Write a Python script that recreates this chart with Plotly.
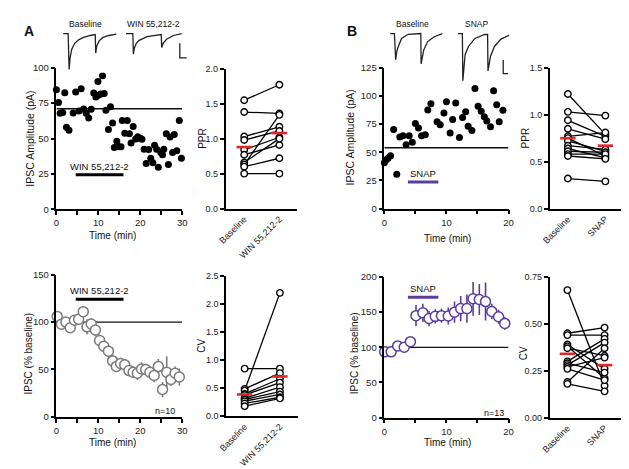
import plotly.graph_objects as go

W, H = 629, 469
FONT = "Liberation Sans, Arial, sans-serif"
PURPLE = "#5b3e9c"
RED = "#e0262b"
GRAY = "#7a7a7a"

# ---------------- Panel A, top: IPSC amplitude (single cell) ----------------
a_amp_t = [0, 0.5, 0.9, 1.5, 2.0, 2.4, 3.0, 4.0, 4.6, 5.4, 5.9, 6.5, 7.1, 7.7, 8.3,
           8.9, 9.4, 9.9, 10.0, 10.6, 11.0, 11.4, 11.8, 12.4, 12.9, 13.4, 13.8, 14.4,
           14.8, 15.4, 15.7, 16.3, 16.9, 17.4, 17.8, 18.3, 18.9, 19.4, 20.0, 20.4,
           20.9, 21.4, 22.0, 22.5, 23.0, 23.4, 23.9, 24.3, 24.9, 25.3, 25.6, 26.2,
           26.7, 27.1, 27.7, 28.1, 28.7, 29.3, 29.8]
a_amp = [84.4, 75.4, 67.8, 68.3, 82.3, 57.9, 55.9, 68.0, 82.8, 69.4, 85.1, 70.8, 67.8,
         64.4, 70.6, 82.1, 79.3, 90.3, 80.5, 81.4, 94.3, 81.8, 69.9, 56.3, 72.4, 60.9,
         43.7, 48.0, 44.1, 44.1, 62.8, 53.8, 62.8, 53.3, 46.9, 58.4, 49.7, 51.3, 50.1,
         49.4, 42.5, 32.4, 42.3, 36.1, 32.9, 45.3, 42.5, 29.7, 40.2, 38.6, 42.5, 53.3,
         31.7, 51.0, 40.2, 52.9, 41.4, 62.8, 36.1]
a_amp_baseline = 71
a_time_span = [0, 30]
win_period = [4.6, 16.0]
win_bar_amp = 24.4

# ---------------- Panel B, top ----------------
b_amp_t = [0, 0.3, 0.6, 1.0, 1.5, 2.0, 2.5, 3.0, 3.5, 4.0, 4.5, 5.0, 5.5, 6.0, 6.6, 7.0,
           7.5, 8.0, 8.5, 9.0, 9.6, 10.0, 10.6, 11.0, 11.5, 12.1, 12.6, 13.1, 13.5,
           14.1, 14.6, 15.1, 15.6, 16.1, 16.5, 17.1, 17.6, 18.1, 18.5, 19.1]
b_amp = [40.7, 43.3, 44.7, 46.8, 70.2, 30.6, 63.5, 64.7, 56.6, 64.7, 58.9, 75.6, 71.6,
         64.7, 65.5, 87.5, 93.0, 121.2, 77.1, 74.5, 84.9, 94.7, 67.0, 79.1, 93.8, 63.2,
         80.8, 86.0, 73.0, 69.3, 106.5, 90.9, 86.3, 81.4, 77.7, 72.7, 104.5, 92.1,
         77.1, 87.2]
b_amp_baseline = 54
b_time_span = [0, 20]
snap_period = [3.8, 8.7]
snap_bar_amp = 23.7

# ---------------- PPR ----------------
cats_a = ["Baseline", "WIN 55,212-2"]
ppr_a_base = [1.55, 1.38, 1.03, 0.98, 0.84, 0.77, 0.66, 0.63, 0.60, 0.50]
ppr_a_win = [1.77, 1.36, 1.17, 1.11, 1.02, 0.91, 1.00, 1.34, 0.72, 0.50]
ppr_a_mean = [0.88, 1.08]

cats_b = ["Baseline", "SNAP"]
ppr_b_base = [1.22, 1.03, 0.94, 0.85, 0.77, 0.75, 0.72, 0.67, 0.64, 0.61, 0.58, 0.56, 0.32]
ppr_b_snap = [0.79, 0.99, 0.77, 0.74, 0.81, 0.56, 0.61, 0.63, 0.54, 0.60, 0.58, 0.53, 0.29]
ppr_b_mean = [0.75, 0.67]

# ---------------- Panel A, bottom: normalised time course ----------------
a_norm_t = [0.2, 1.2, 2.25, 3.3, 4.3, 5.3, 6.4, 7.3, 8.3, 9.3, 10.3, 11.3, 12.4, 13.4,
            14.3, 15.3, 16.3, 17.3, 18.3, 19.3, 20.3, 21.3, 22.3, 23.3, 24.3, 25.3,
            26.3, 27.3, 28.3, 29.3]
a_norm = [106, 97.7, 100, 94, 102, 103, 111, 95, 98, 91.7, 80.7, 74.5, 69.3, 59, 53.2,
          56.4, 55, 48.8, 47, 46, 50.5, 50, 47, 43.6, 53, 28.8, 47, 39.5, 46, 42]
a_norm_err = [5, 4, 4, 4, 5, 5, 6, 8, 6, 6, 6, 6, 7, 7, 6, 6, 6, 6, 6, 7, 7, 6, 6, 7,
              8, 8, 17, 7, 7, 9]
win_bar_norm = 124
a_n_label = "n=10"

# ---------------- Panel B, bottom ----------------
b_norm_t = [0.05, 1.1, 2.15, 3.2, 4.2, 5.1, 6.2, 7.2, 8.2, 9.2, 10.3, 11.3, 12.3, 13.3,
            14.3, 15.3, 16.3, 17.3, 18.4, 19.4]
b_norm = [93.5, 93.5, 102, 100, 108, 145, 149, 141, 144, 145, 144.5, 150, 155, 155,
          169, 168, 165, 151, 143.5, 134]
b_norm_err = [5, 4, 4, 4, 5, 15, 13, 11, 10, 10, 12, 15, 18, 20, 24, 22, 27, 11, 10, 9]
snap_bar_norm = 171
b_n_label = "n=13"

# ---------------- CV ----------------
cv_a_base = [0.85, 0.49, 0.46, 0.40, 0.38, 0.32, 0.30, 0.27, 0.23, 0.18]
cv_a_win = [0.85, 0.77, 2.20, 0.67, 0.60, 0.52, 0.44, 0.39, 0.34, 0.32]
cv_a_mean = [0.39, 0.71]

cv_b_base = [0.68, 0.45, 0.44, 0.39, 0.38, 0.37, 0.30, 0.29, 0.28, 0.27, 0.26, 0.19, 0.18]
cv_b_snap = [0.17, 0.48, 0.44, 0.26, 0.21, 0.33, 0.42, 0.24, 0.40, 0.32, 0.20, 0.37, 0.14]
cv_b_mean = [0.34, 0.28]

# ---------------- Example current traces (ms, pA) ----------------
tr_a_base_t = [4.6, 14.6, 16.6, 18.6, 22, 28, 36, 46, 60, 68, 70, 71, 73, 78, 86, 98, 113]
tr_a_base_i = [0, 0, -147, -100, -64, -40, -26, -16, -8, -4, -4, -80, -52, -30, -16, -8, -2]
tr_a_win_t = [133, 147, 148, 150, 154, 160, 176, 200, 205, 206, 209, 216, 230, 247]
tr_a_win_i = [0, 0, -84, -60, -40, -28, -13, -4, -4, -57, -40, -23, -8, 0]
scale_a_t = [243, 243, 257]
scale_a_i = [-40, -100, -100]

tr_b_base_t = [7.4, 16, 18.6, 21, 24, 30.6, 44, 65.4, 70, 70.6, 73, 76, 84, 97.4, 114]
tr_b_base_i = [0, 0, -107, -72, -53, -20, -3, 0, 0, -124, -92, -67, -33, -13, 0]
tr_b_snap_t = [146, 155, 156, 158, 160.6, 167.4, 180.6, 200.6, 206.6, 207.4, 209.6,
               212.6, 220.6, 234, 250.6]
tr_b_snap_i = [0, 0, -193, -128, -87, -53, -20, -4, -4, -153, -120, -93, -53, -23, -7]
scale_b_t = [238.6, 238.6, 248.6]
scale_b_i = [-108, -164, -164]


def px(x):
    return x / W


def py(y):
    return 1 - y / H


fig = go.Figure()

axis_common = dict(showline=True, linecolor="black", linewidth=1.5, ticks="outside",
                   ticklen=4, tickwidth=1.5, tickcolor="black", showgrid=False,
                   zeroline=False, tickfont=dict(family=FONT, size=9.5, color="#222"))


def time_panel(idx, t, v, span, baseline, period, bar_level, xdom, ydom, yrange,
               ytickvals, xtickvals, xticktext, dots=True, err=None, color="black",
               bar_color="black", drug_label="", nlabel=None):
    xa = "x" if idx == 1 else f"x{idx}"
    ya = "y" if idx == 1 else f"y{idx}"
    fig.add_trace(go.Scatter(x=span, y=[baseline, baseline], mode="lines",
                             line=dict(color="#111", width=1.3), xaxis=xa, yaxis=ya,
                             showlegend=False, hoverinfo="skip", cliponaxis=False))
    fig.add_trace(go.Scatter(x=period, y=[bar_level, bar_level], mode="lines",
                             line=dict(color=bar_color, width=3), xaxis=xa, yaxis=ya,
                             showlegend=False, hoverinfo="skip"))
    if dots:
        fig.add_trace(go.Scatter(x=t, y=v, mode="markers", xaxis=xa, yaxis=ya,
                                 marker=dict(size=7, color="black"), showlegend=False,
                                 cliponaxis=False))
    else:
        fig.add_trace(go.Scatter(x=t, y=v, mode="markers", xaxis=xa, yaxis=ya,
                                 marker=dict(size=10, color="white",
                                             line=dict(color=color, width=1.5)),
                                 error_y=dict(type="data", array=err, width=0,
                                              thickness=1.6, color=color),
                                 showlegend=False, cliponaxis=False))
    fig.add_annotation(x=(period[0] + period[1]) / 2, y=bar_level, xref=xa, yref=ya,
                       text=drug_label, showarrow=False, yanchor="bottom", yshift=1,
                       font=dict(family=FONT, size=9.5, color="#111"))
    if nlabel:
        fig.add_annotation(x=nlabel[0], y=nlabel[1], xref=xa, yref=ya, text=nlabel[2],
                           showarrow=False, font=dict(family=FONT, size=9, color="#111"))
    fig.layout[f"xaxis{'' if idx == 1 else idx}"] = dict(
        axis_common, domain=xdom, range=span, tickvals=xtickvals, ticktext=xticktext,
        anchor=ya)
    fig.layout[f"yaxis{'' if idx == 1 else idx}"] = dict(
        axis_common, domain=ydom, range=yrange, tickvals=ytickvals, anchor=xa)


def pair_panel(idx, cats, base, drug, means, xdom, ydom, yrange, ytickvals, yticktext,
               xrange):
    xa = f"x{idx}"
    ya = f"y{idx}"
    xs, ys = [], []
    for b, d in zip(base, drug):
        xs += [cats[0], cats[1], None]
        ys += [b, d, None]
    fig.add_trace(go.Scatter(x=xs, y=ys, mode="lines", line=dict(color="black", width=1.3),
                             xaxis=xa, yaxis=ya, showlegend=False, hoverinfo="skip"))
    fig.add_trace(go.Scatter(x=[cats[0]] * len(base) + [cats[1]] * len(drug),
                             y=list(base) + list(drug), mode="markers", xaxis=xa, yaxis=ya,
                             marker=dict(size=6.5, color="white",
                                         line=dict(color="black", width=1.4)),
                             showlegend=False, cliponaxis=False))
    fig.add_trace(go.Scatter(x=cats, y=means, mode="markers", xaxis=xa, yaxis=ya,
                             marker=dict(symbol="line-ew", size=11,
                                         line=dict(color=RED, width=2.6)),
                             showlegend=False, cliponaxis=False))
    fig.layout[f"xaxis{idx}"] = dict(
        axis_common, domain=xdom, type="category", categoryorder="array",
        categoryarray=cats, range=xrange, ticks="", tickangle=-45, anchor=ya,
        tickfont=dict(family=FONT, size=9, color="#222"))
    fig.layout[f"yaxis{idx}"] = dict(axis_common, domain=ydom, range=yrange,
                                     tickvals=ytickvals, ticktext=yticktext, anchor=xa,
                                     tickfont=dict(family=FONT, size=9, color="#222"))


top_y = [py(200), py(55)]
bot_y = [py(412.5), py(267)]
ax_a = [px(40.3), px(169)]
ax_b = [px(375.7), px(502.7)]

time_panel(1, a_amp_t, a_amp, a_time_span, a_amp_baseline, win_period, win_bar_amp,
           ax_a, top_y, [0, 100], [0, 25, 50, 75, 100], [0, 5, 10, 15, 20, 25, 30],
           ["0", "", "10", "", "20", "", "30"], drug_label="WIN 55,212-2")
pair_panel(2, cats_a, ppr_a_base, ppr_a_win, ppr_a_mean, [px(213.3), px(286.7)],
           [py(199.3), py(56)], [0, 2.0], [0, 0.5, 1.0, 1.5, 2.0],
           ["0.0", "0.5", "1.0", "1.5", "2.0"], [-0.53, 1.51])
time_panel(3, b_amp_t, b_amp, b_time_span, b_amp_baseline, snap_period, snap_bar_amp,
           ax_b, [py(199.3), py(55)], [0, 125], [0, 25, 50, 75, 100, 125],
           [0, 5, 10, 15, 20], ["0", "", "10", "", "20"], bar_color=PURPLE,
           drug_label="SNAP")
pair_panel(4, cats_b, ppr_b_base, ppr_b_snap, ppr_b_mean, [px(545), px(621.7)],
           [py(199.3), py(55)], [0, 1.5], [0, 0.5, 1.0, 1.5],
           ["0.0", "0.5", "1.0", "1.5"], [-0.48, 1.52])
time_panel(5, a_norm_t, a_norm, a_time_span, 100, win_period, win_bar_norm,
           ax_a, bot_y, [0, 150], [0, 50, 100, 150], [0, 5, 10, 15, 20, 25, 30],
           ["0", "", "10", "", "20", "", "30"], dots=False, err=a_norm_err, color=GRAY,
           drug_label="WIN 55,212-2", nlabel=(26.0, 6, a_n_label))
pair_panel(6, cats_a, cv_a_base, cv_a_win, cv_a_mean, [px(213.7), px(287.3)],
           [py(412), py(268.3)], [0, 2.5], [0, 0.5, 1.0, 1.5, 2.0, 2.5],
           ["0.0", "0.5", "1.0", "1.5", "2.0", "2.5"], [-0.53, 1.51])
time_panel(7, b_norm_t, b_norm, b_time_span, 100, snap_period, snap_bar_norm,
           ax_b, [py(413.3), py(269.3)], [0, 200], [0, 50, 100, 150, 200],
           [0, 5, 10, 15, 20], ["0", "", "10", "", "20"], dots=False, err=b_norm_err,
           color=PURPLE, bar_color=PURPLE, drug_label="SNAP",
           nlabel=(17.6, 7, b_n_label))
pair_panel(8, cats_b, cv_b_base, cv_b_snap, cv_b_mean, [px(544.7), px(620.7)],
           [py(413.3), py(269.3)], [0, 0.75], [0, 0.25, 0.5, 0.75],
           ["0.00", "0.25", "0.50", "0.75"], [-0.48, 1.52])

# ---------------- example traces (insets) ----------------
for xs, ys, ax in [(tr_a_base_t, tr_a_base_i, 9), (tr_a_win_t, tr_a_win_i, 9),
                   (scale_a_t, scale_a_i, 9), (tr_b_base_t, tr_b_base_i, 10),
                   (tr_b_snap_t, tr_b_snap_i, 10), (scale_b_t, scale_b_i, 10)]:
    fig.add_trace(go.Scatter(x=xs, y=ys, mode="lines", xaxis=f"x{ax}", yaxis=f"y{ax}",
                             line=dict(color="#222", width=1.3), showlegend=False,
                             hoverinfo="skip", cliponaxis=False))
fig.layout["xaxis9"] = dict(domain=[px(45), px(175)], range=[0, 260], visible=False,
                            anchor="y9")
fig.layout["yaxis9"] = dict(domain=[py(60), py(15)], range=[-160, 20], visible=False,
                            anchor="x9")
fig.layout["xaxis10"] = dict(domain=[px(378), px(508)], range=[0, 260], visible=False,
                             anchor="y10")
fig.layout["yaxis10"] = dict(domain=[py(72), py(15)], range=[-208, 20], visible=False,
                             anchor="x10")


def txt(x, y, s, size=10, angle=0):
    fig.add_annotation(x=px(x), y=py(y), xref="paper", yref="paper", text=s,
                       showarrow=False, textangle=angle, xanchor="center",
                       yanchor="middle",
                       font=dict(family=FONT, size=size, color="#111"))


txt(12, 17, "<b>A</b>", size=14)
txt(343, 17, "<b>B</b>", size=14)
txt(70, 10, "Baseline", size=8.5)
txt(140, 10, "WIN 55,212-2", size=8.5)
txt(404, 10, "Baseline", size=8.5)
txt(470, 10, "SNAP", size=8.5)

txt(13, 128, "IPSC Amplitude (pA)", size=10.5, angle=-90)
txt(98, 227, "Time (min)")
txt(189, 127, "PPR", angle=-90)
txt(341, 126, "IPSC Amplitude (pA)", size=10.5, angle=-90)
txt(440, 230, "Time (min)")
txt(520, 127, "PPR", angle=-90)
txt(12, 348, "IPSC (% baseline)", angle=-90)
txt(98, 439, "Time (min)")
txt(188, 340, "CV", angle=-90)
txt(346, 347, "IPSC (% baseline)", angle=-90)
txt(440, 439, "Time (min)")
txt(518, 347, "CV", angle=-90)

fig.update_layout(width=W, height=H, margin=dict(l=0, r=0, t=0, b=0),
                  paper_bgcolor="white", plot_bgcolor="white", showlegend=False,
                  font=dict(family=FONT, size=9, color="#111"))

fig.write_html("out.html")
